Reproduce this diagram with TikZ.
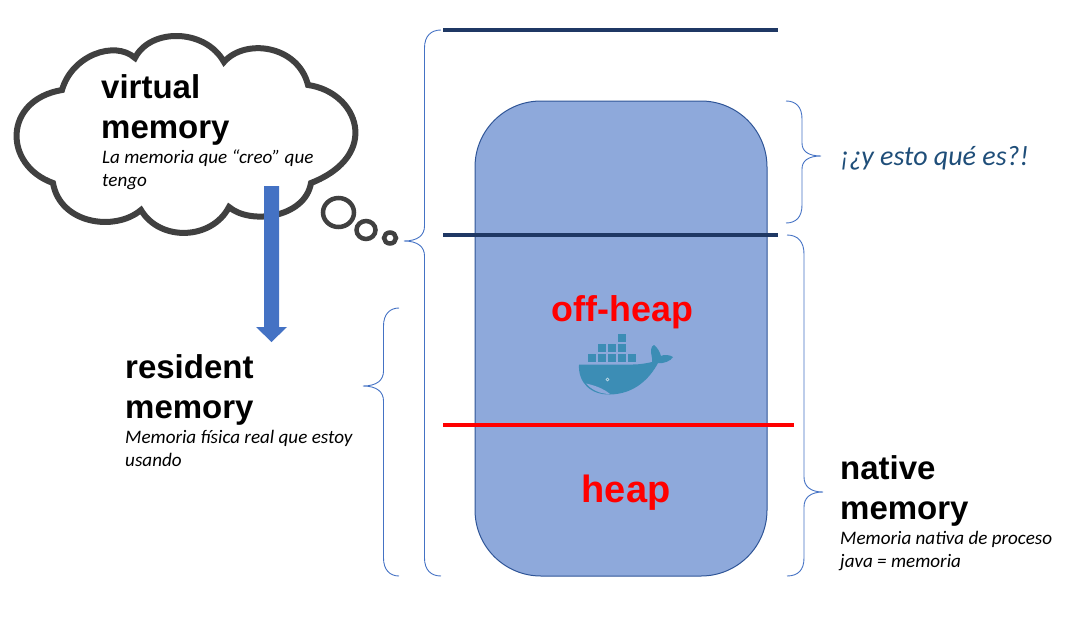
\documentclass[tikz,border=0pt]{standalone}
\usepackage{fontspec}
\setmainfont{Liberation Sans}
\newfontfamily\carl{Carlito}
\definecolor{navyline}{HTML}{1F3864}
\definecolor{bracec}{HTML}{4472C4}
\definecolor{boxfill}{HTML}{8EA9DB}
\definecolor{boxedge}{HTML}{2F5597}
\definecolor{cloudc}{HTML}{404040}
\definecolor{whale}{HTML}{3C8DB5}
\definecolor{askc}{HTML}{1F4E79}
\tikzset{
  bracepath/.style={draw=bracec,line width=0.9pt},
  divider/.style={line width=3.4pt},
  bigt/.style={anchor=base west,inner sep=0pt,font=\fontsize{33}{33}\selectfont\bfseries,text=black},
  smallt/.style={anchor=base west,inner sep=0pt,font=\carl\fontsize{19.1}{19.1}\selectfont\itshape,text=black},
  redt/.style={anchor=base,inner sep=0pt,font=\bfseries,text=red},
  cloudline/.style={draw=cloudc,line width=6pt,line join=miter},
  bubble/.style={draw=cloudc,fill=white,line width=4.5pt},
  crate/.style={fill=whale}
}
\begin{document}
\begin{tikzpicture}[x=1pt,y=-1pt]
\useasboundingbox (0,0) rectangle (1067,616);
% rounded box
\draw[fill=boxfill,draw=boxedge,line width=1pt,rounded corners=66pt] (475,101) rectangle (767,576);
% dividers
\coordinate (d1a) at (443,30); \coordinate (d1b) at (778,30);
\coordinate (d2a) at (443,235); \coordinate (d2b) at (778,235);
\coordinate (d3a) at (443,425); \coordinate (d3b) at (794,425);
\draw[divider,navyline] (d1a) -- (d1b);
\draw[divider,navyline] (d2a) -- (d2b);
\draw[divider,red] (d3a) -- (d3b);
% braces
\draw[bracepath] (441,30) .. controls (431,30) and (424.5,36) .. (424.5,48) -- (424.5,226)
  .. controls (424.5,235) and (418,241) .. (404,241)
  .. controls (418,241) and (424.5,247) .. (424.5,256) -- (424.5,558)
  .. controls (424.5,570) and (431,576) .. (441,576);
\draw[bracepath] (399,308) .. controls (390,308) and (383.5,314) .. (383.5,326) -- (383.5,371)
  .. controls (383.5,380) and (377,386) .. (363,386)
  .. controls (377,386) and (383.5,392) .. (383.5,401) -- (383.5,558)
  .. controls (383.5,570) and (390,576) .. (399,576);
\draw[bracepath] (786,101) .. controls (796,101) and (802,107) .. (802,119) -- (802,143)
  .. controls (802,151) and (808,156) .. (821,156)
  .. controls (808,156) and (802,161) .. (802,169) -- (802,205)
  .. controls (802,217) and (796,223) .. (786,223);
\draw[bracepath] (787,235) .. controls (798,235) and (804,242) .. (804,254) -- (804,477)
  .. controls (804,486) and (810,492) .. (823,492)
  .. controls (810,492) and (804,498) .. (804,507) -- (804,558)
  .. controls (804,570) and (798,576) .. (787,576);
% cloud
\draw[cloudline,fill=white] (62,90)
  .. controls (72,55) and (115,40) .. (135,58)
  .. controls (150,28) and (205,28) .. (224,62)
  .. controls (245,38) and (298,45) .. (308,85)
  .. controls (358,92) and (382,155) .. (311,183)
  .. controls (305,218) and (250,225) .. (229,207)
  .. controls (212,240) and (160,242) .. (141,210)
  .. controls (115,232) and (60,224) .. (53,183)
  .. controls (3,165) and (3,100) .. (62,90) -- cycle;
\draw[bubble] (338.5,212.5) ellipse (15.5pt and 14.5pt);
\draw[bubble] (366,230) ellipse (9.5pt and 9pt);
\draw[bubble] (390,238) ellipse (6pt and 5.5pt);
% arrow
\fill[bracec] (264,186) -- (279,186) -- (279,327) -- (287,327) -- (271.5,342) -- (256,327) -- (264,327) -- cycle;
% whale
\foreach \cx/\cy in {618/334,598/344,608/344,618/344,588/354,598/354,608/354,618/354,628/354}
  \fill[crate] (\cx,\cy) rectangle ++(8.4,8.4);
\fill[whale] (579,364.5) -- (633,364.5)
  .. controls (640,364.5) and (648,363) .. (652,362)
  .. controls (653,360) and (651,355) .. (651,351)
  .. controls (651,347) and (653,345) .. (654,345)
  .. controls (657,347) and (660,352) .. (661,356)
  .. controls (664,354) and (670,355) .. (673,357)
  .. controls (671,361) and (663,364) .. (658,363)
  .. controls (650,378) and (635,394) .. (610,394.5)
  .. controls (590,395) and (578,382) .. (579,364.5) -- cycle;
\fill[boxfill] (586,383.5) .. controls (593,385) and (603,388) .. (610,394)
  .. controls (600,394) and (592,390) .. (586,383.5) -- cycle;
\fill[white,opacity=.8] (607.5,379.5) circle (1.8pt);
\fill[whale] (607.5,379.5) circle (0.8pt);
% texts
\node[bigt] (vm1) at (101,98) {virtual};
\node[bigt] (vm2) at (101,138) {memory};
\node[smallt] (vm3) at (102,163) {La memoria que “creo” que};
\node[smallt] (vm4) at (102,186) {tengo};
\node[bigt] (rm1) at (125,378) {resident};
\node[bigt] (rm2) at (125,418) {memory};
\node[smallt] (rm3) at (125,443) {Memoria física real que estoy};
\node[smallt] (rm4) at (125,466) {usando};
\node[bigt] (nm1) at (840,479) {native};
\node[bigt] (nm2) at (840,519) {memory};
\node[smallt] (nm3) at (840,544) {Memoria nativa de proceso};
\node[smallt] (nm4) at (840,567) {java = memoria};
\node[anchor=base west,inner sep=0pt,text=askc,font=\carl\fontsize{28}{28}\selectfont\itshape] (ask) at (840,165) {¡¿y esto qué es?!};
\node[redt,font=\fontsize{35.8}{36}\selectfont\bfseries] (off) at (622.5,321) {off-heap};
\node[redt,font=\fontsize{38}{38}\selectfont\bfseries] (heap) at (626,502) {heap};
\end{tikzpicture}
\end{document}
